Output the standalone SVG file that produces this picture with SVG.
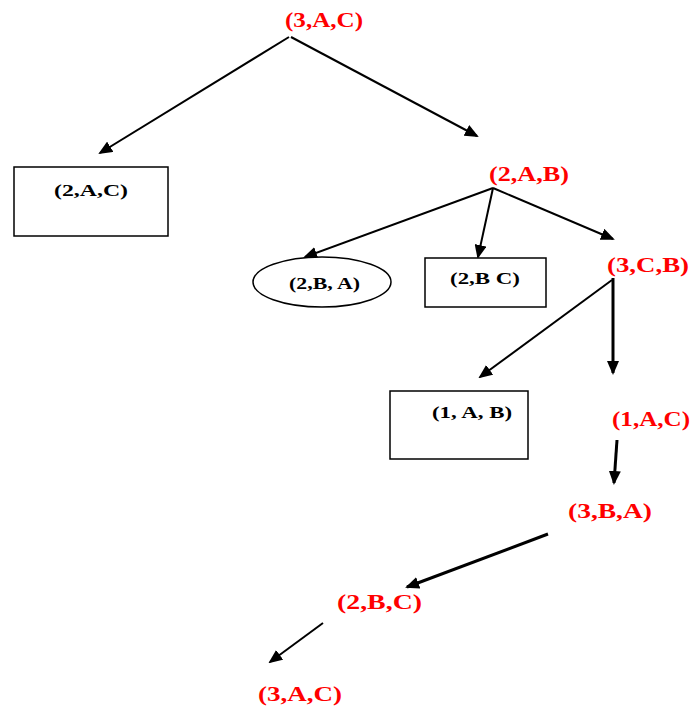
<svg xmlns="http://www.w3.org/2000/svg" width="696" height="713" viewBox="0 0 696 713">
  <style>
    .red { font-family: "Liberation Serif", "Times New Roman", serif; font-weight: bold; font-size: 21px; fill: #ff0000; }
    .blk { font-family: "Liberation Serif", "Times New Roman", serif; font-weight: bold; font-size: 17px; fill: #000000; }
    .box { fill: #ffffff; stroke: #000000; stroke-width: 1.5; }
    .edge { stroke: #000000; stroke-width: 2; fill: none; marker-end: url(#head); }
    .thick { stroke-width: 3; }
  </style>
  <defs>
    <marker id="head" markerUnits="userSpaceOnUse" markerWidth="14" markerHeight="12" refX="12" refY="6" orient="auto">
      <path d="M0,0 L14,6 L0,12 z" fill="#000000"/>
    </marker>
  </defs>
  <rect width="696" height="713" fill="#ffffff"/>

  <!-- connectors -->
  <g id="edges">
    <line class="edge" x1="289" y1="37" x2="100" y2="153"/>
    <line class="edge" x1="291" y1="37" x2="477" y2="136"/>
    <line class="edge" x1="493" y1="188" x2="305" y2="257"/>
    <line class="edge" x1="493" y1="188" x2="478" y2="257"/>
    <line class="edge" x1="493" y1="188" x2="613" y2="239"/>
    <line class="edge thick" x1="613" y1="278" x2="613" y2="373"/>
    <line class="edge" x1="612" y1="280" x2="480" y2="377"/>
    <line class="edge thick" x1="617" y1="440" x2="614" y2="483"/>
    <line class="edge thick" x1="548" y1="534" x2="407" y2="587"/>
    <line class="edge" x1="323" y1="623" x2="270" y2="662"/>
  </g>

  <!-- nodes -->
  <g id="n-3AC-top">
    <text class="red" x="285" y="27" textLength="78" lengthAdjust="spacingAndGlyphs">(3,A,C)</text>
  </g>
  <g id="n-2AC">
    <rect class="box" x="14" y="167" width="154" height="69"/>
    <text class="blk" x="54" y="196" textLength="74" lengthAdjust="spacingAndGlyphs">(2,A,C)</text>
  </g>
  <g id="n-2AB">
    <text class="red" x="489" y="181" textLength="80" lengthAdjust="spacingAndGlyphs">(2,A,B)</text>
  </g>
  <g id="n-2BA">
    <ellipse class="box" cx="322" cy="282" rx="69" ry="25"/>
    <text class="blk" x="289" y="289" textLength="71" lengthAdjust="spacingAndGlyphs">(2,B, A)</text>
  </g>
  <g id="n-2BC-box">
    <rect class="box" x="425" y="258" width="121" height="49"/>
    <text class="blk" x="450" y="284" textLength="70" lengthAdjust="spacingAndGlyphs">(2,B C)</text>
  </g>
  <g id="n-3CB">
    <text class="red" x="607" y="272" textLength="82" lengthAdjust="spacingAndGlyphs">(3,C,B)</text>
  </g>
  <g id="n-1AB">
    <rect class="box" x="390" y="391" width="138" height="68"/>
    <text class="blk" x="432" y="418" textLength="80" lengthAdjust="spacingAndGlyphs">(1, A, B)</text>
  </g>
  <g id="n-1AC">
    <text class="red" x="612" y="426" textLength="78" lengthAdjust="spacingAndGlyphs">(1,A,C)</text>
  </g>
  <g id="n-3BA">
    <text class="red" x="568" y="518" textLength="84" lengthAdjust="spacingAndGlyphs">(3,B,A)</text>
  </g>
  <g id="n-2BC">
    <text class="red" x="337" y="609" textLength="85" lengthAdjust="spacingAndGlyphs">(2,B,C)</text>
  </g>
  <g id="n-3AC-bottom">
    <text class="red" x="258" y="701" textLength="84" lengthAdjust="spacingAndGlyphs">(3,A,C)</text>
  </g>
</svg>
